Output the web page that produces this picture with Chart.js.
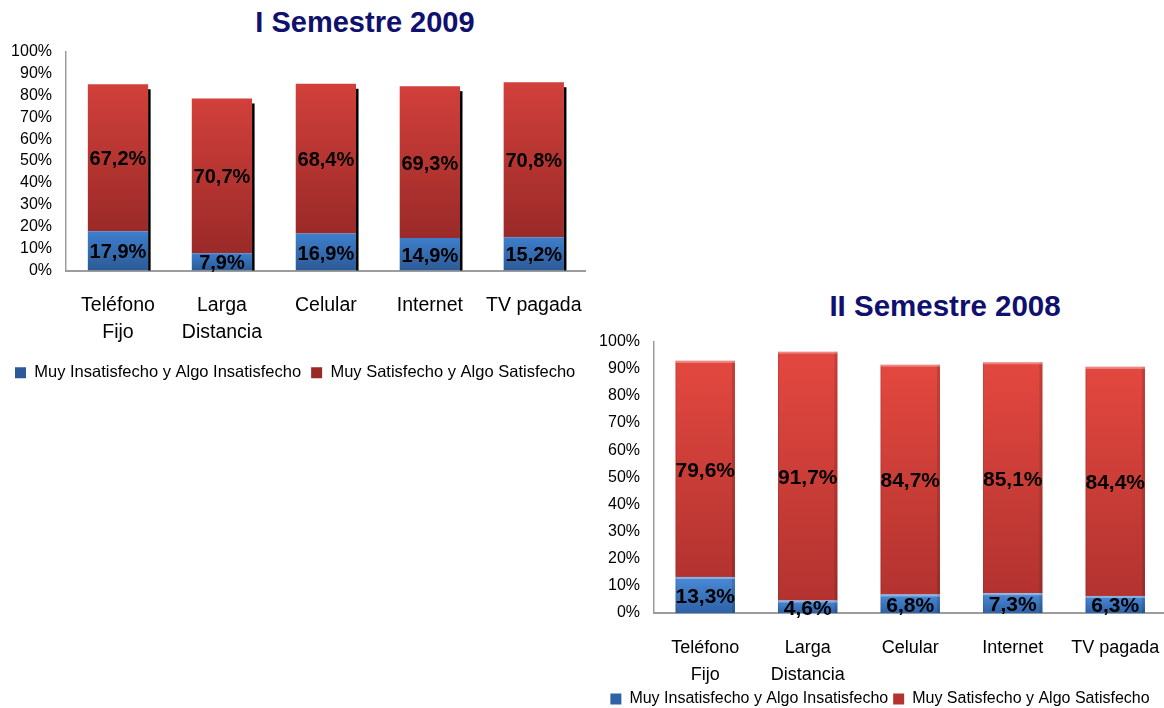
<!DOCTYPE html>
<html>
<head>
<meta charset="utf-8">
<script src="https://cdn.jsdelivr.net/npm/chart.js@4.4.1/dist/chart.umd.min.js"></script>
<style>
  body { margin: 0; width: 1164px; height: 708px; background: #fff; position: relative; overflow: hidden;
         font-family: "Liberation Sans", Arial, sans-serif; }
  .title { position: absolute; color: #10106e; font-weight: bold; text-align: center; white-space: nowrap; }
  #t1 { left: 215px; width: 300px; top: 7px; font-size: 29px; line-height: 30px; }
  #t2 { left: 795px; width: 300px; top: 291px; font-size: 29.5px; line-height: 30px; }
  .box { position: absolute; }
  #box1 { left: 0; top: 28px; width: 603px; height: 363px; }
  #box2 { left: 590px; top: 318px; width: 592px; height: 399px; }
</style>
</head>
<body>
<div class="title" id="t1">I Semestre 2009</div>
<div class="title" id="t2">II Semestre 2008</div>
<div class="box" id="box1"><canvas id="chart2009"></canvas></div>
<div class="box" id="box2"><canvas id="chart2008"></canvas></div>

<script>
/* ========= Data ========= */
const categories  = [['Teléfono', 'Fijo'], ['Larga', 'Distancia'], 'Celular', 'Internet', 'TV pagada'];
const seriesNames = ['Muy Insatisfecho y Algo Insatisfecho', 'Muy Satisfecho y Algo Satisfecho'];

const insat2009 = [17.9, 7.9, 16.9, 14.9, 15.2];
const sat2009   = [67.2, 70.7, 68.4, 69.3, 70.8];

const insat2008 = [13.3, 4.6, 6.8, 7.3, 6.3];
const sat2008   = [79.6, 91.7, 84.7, 85.1, 84.4];

const yMax  = 100;
const yStep = 10;

const FONT = '"Liberation Sans", Arial, sans-serif';

/* ========= Helpers ========= */
const pct = v => v.toFixed(1).replace('.', ',') + '%';

// vertical gradient over one stacked segment
function segGradient(colors) {
  return (c) => {
    if (c.type !== 'data') return colors[2];
    const chart = c.chart, ys = chart.scales.y;
    if (!ys) return colors[2];
    const ds = chart.data.datasets;
    let base = 0;
    for (let i = 0; i < c.datasetIndex; i++) base += ds[i].data[c.dataIndex];
    const top = base + ds[c.datasetIndex].data[c.dataIndex];
    const y0 = ys.getPixelForValue(top), y1 = ys.getPixelForValue(base);
    if (!isFinite(y0) || !isFinite(y1) || y0 === y1) return colors[2];
    const g = chart.ctx.createLinearGradient(0, y0, 0, y1);
    g.addColorStop(0, colors[0]);
    g.addColorStop(1, colors[1]);
    return g;
  };
}

// bold value labels in the middle of each segment
const valueLabels = {
  id: 'valueLabels',
  afterDatasetsDraw(chart, args, opts) {
    const ctx = chart.ctx;
    ctx.save();
    ctx.font = `bold ${opts.size}px ${FONT}`;
    ctx.fillStyle = '#000';
    ctx.textAlign = 'center';
    ctx.textBaseline = 'middle';
    chart.data.datasets.forEach((ds, i) => {
      chart.getDatasetMeta(i).data.forEach((bar, j) => {
        ctx.fillText(pct(ds.data[j]), bar.x, (bar.y + bar.base) / 2 + 2);
      });
    });
    ctx.restore();
  }
};

// shadow / bevel around the bars
const barEffects = {
  id: 'barEffects',
  afterDatasetsDraw(chart, args, opts) {
    const ctx = chart.ctx;
    const n = chart.data.datasets.length;
    ctx.save();
    chart.getDatasetMeta(0).data.forEach((bar0, j) => {
      const topBar = chart.getDatasetMeta(n - 1).data[j];
      const right = bar0.x + bar0.width / 2;
      const left  = bar0.x - bar0.width / 2;
      if (opts.shadow) {
        ctx.fillStyle = '#000';
        ctx.fillRect(right, topBar.y + 5, 2.5, bar0.base - topBar.y - 5);
      }
      if (opts.bevel) {
        for (let i = 0; i < n; i++) {
          const b = chart.getDatasetMeta(i).data[j];
          const h = b.base - b.y;
          ctx.fillStyle = 'rgba(0,0,0,0.13)';
          ctx.fillRect(right - 3, b.y, 3, h);
          ctx.fillRect(left, b.y, 1, h);
          ctx.fillStyle = 'rgba(255,255,255,0.35)';
          ctx.fillRect(left, b.y, b.width, 2);
        }
      }
    });
    ctx.restore();
  }
};

function makeChart(canvasId, insat, sat, cfg) {
  return new Chart(document.getElementById(canvasId), {
    type: 'bar',
    data: {
      labels: categories,
      datasets: [
        { label: seriesNames[0], data: insat, backgroundColor: segGradient(cfg.blue), borderWidth: 0 },
        { label: seriesNames[1], data: sat,   backgroundColor: segGradient(cfg.red),  borderWidth: 0 }
      ]
    },
    plugins: [barEffects, valueLabels],
    options: {
      responsive: true,
      maintainAspectRatio: false,
      animation: false,
      datasets: { bar: { categoryPercentage: 1, barPercentage: 0.58 } },
      layout: { padding: cfg.padding },
      plugins: {
        title: { display: false },
        tooltip: { enabled: false },
        legend: {
          position: 'bottom',
          align: cfg.legendAlign,
          labels: {
            color: '#000',
            boxWidth: 11, boxHeight: 11, padding: cfg.legendPad,
            font: { family: FONT, size: cfg.legendSize }
          }
        },
        valueLabels: { size: cfg.labelSize },
        barEffects: { shadow: cfg.shadow, bevel: cfg.bevel }
      },
      scales: {
        x: {
          stacked: true,
          grid: { display: false, drawTicks: false },
          border: { display: true, color: '#9c9c9c', width: 2 },
          ticks: {
            color: '#000', padding: 21.5, maxRotation: 0, autoSkip: false,
            font: { family: FONT, size: cfg.catSize, lineHeight: 27 / cfg.catSize }
          },
          afterFit: s => { s.height = cfg.xHeight; }
        },
        y: {
          stacked: true,
          min: 0, max: yMax,
          grid: { display: false, drawTicks: false },
          border: { display: true, color: '#9c9c9c', width: 1.5 },
          ticks: {
            stepSize: yStep, autoSkip: false, color: '#000', padding: 14,
            font: { family: FONT, size: 16 },
            callback: v => v + '%'
          },
          afterFit: s => { s.width = cfg.yWidth; }
        }
      }
    }
  });
}

makeChart('chart2009', insat2009, sat2009, {
  blue: ['#3e7fcd', '#2c5a96', '#3a78c4'],
  red:  ['#d2403b', '#9a2a28', '#c63c37'],
  padding: { left: 5, right: 0, top: 0, bottom: 0 },
  legendAlign: 'start', legendSize: 16.5, legendPad: 10,
  labelSize: 20, catSize: 19.5,
  xHeight: 84, yWidth: 61,
  shadow: true, bevel: false
});

makeChart('chart2008', insat2008, sat2008, {
  blue: ['#4b8ad6', '#2e62a8', '#3f7cc8'],
  red:  ['#e3483f', '#b33330', '#cf3f39'],
  padding: { left: 0, right: 12, top: 0, bottom: 0 },
  legendAlign: 'center', legendSize: 16, legendPad: 5,
  labelSize: 21, catSize: 18,
  xHeight: 73, yWidth: 64,
  shadow: false, bevel: true
});
</script>
</body>
</html>
